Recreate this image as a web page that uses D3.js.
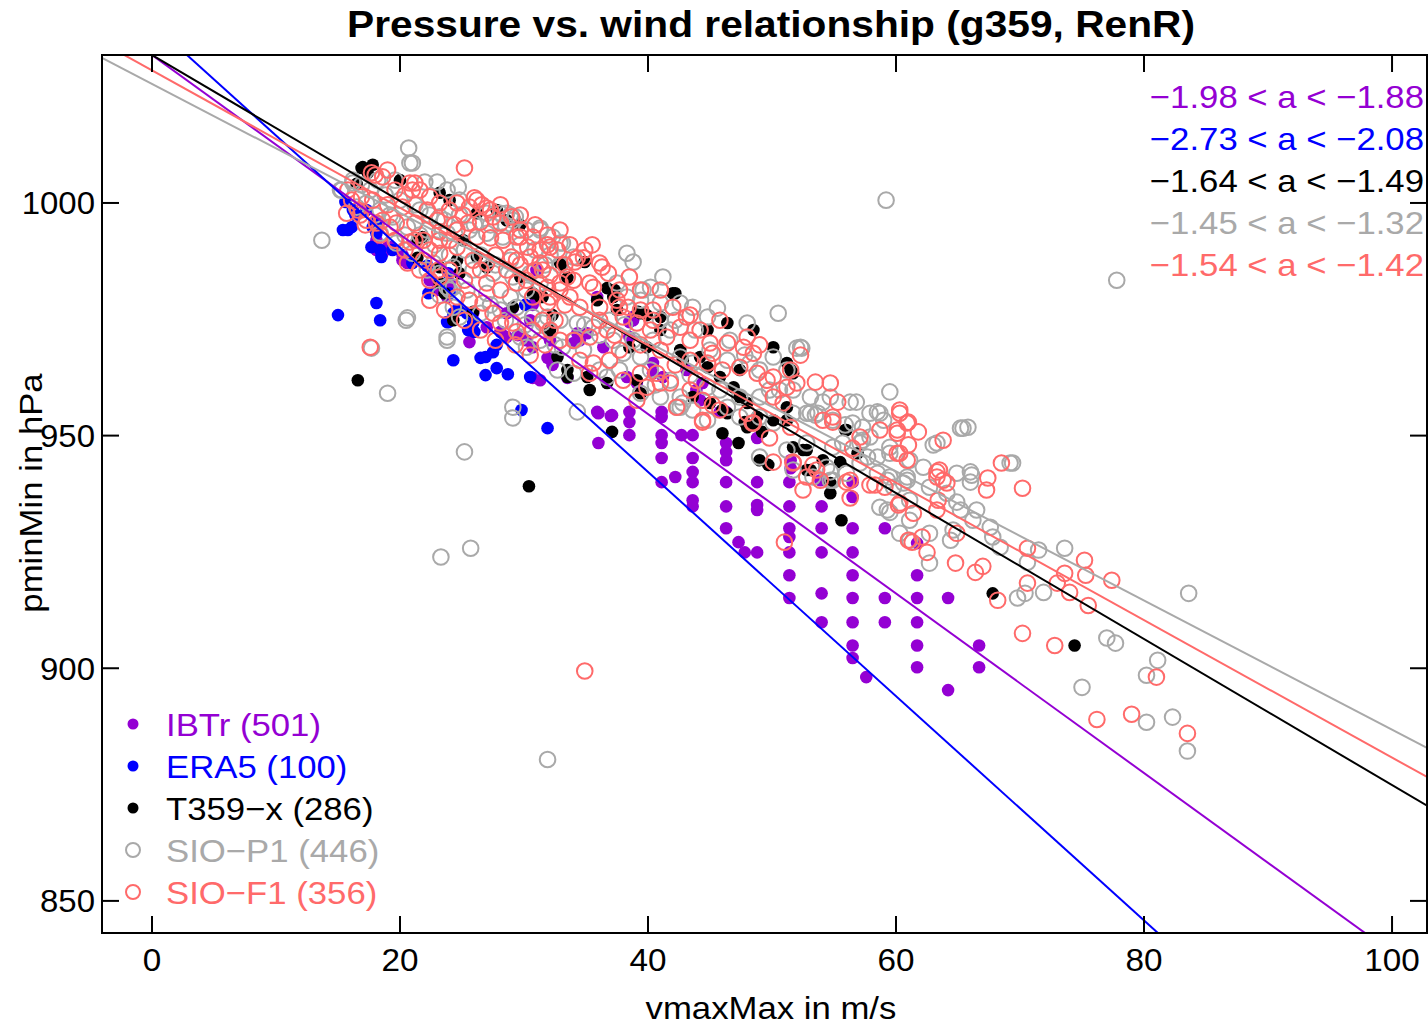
<!DOCTYPE html>
<html lang="en">
  <head>
    <meta charset="UTF-8" />
    <title>Pressure vs. wind relationship</title>
    <script src="https://d3js.org/d3.v7.min.js"></script>
    <style>
      body {
        margin: 0;
        background: white;
        font-family: "Liberation Sans", Arial, sans-serif;
      }
    </style>
  </head>
  <body>
    <script>
      // series names and colours, in drawing order
      const seriesNames = ["IBTr (501)", "ERA5 (100)", "T359\u2212x (286)", "SIO\u2212P1 (446)", "SIO\u2212F1 (356)"];
      const seriesColors = ["#9400d3", "#0000ff", "#000000", "#a9a9a9", "#ff6a6a"];
      const seriesFilled = [true, true, true, false, false];

      // fitted lines p = b + a * v
      const lineIntercepts = [1031.8, 1038.6, 1031.8, 1025.6, 1028.5];
      const lineSlopes = [-1.929, -2.41, -1.569, -1.388, -1.477];
      const slopeLabels = [
        "\u22121.98 < a < \u22121.88",
        "\u22122.73 < a < \u22122.08",
        "\u22121.64 < a < \u22121.49",
        "\u22121.45 < a < \u22121.32",
        "\u22121.54 < a < \u22121.42"
      ];

      const xTicks = [0, 20, 40, 60, 80, 100];
      const yTicks = [850, 900, 950, 1000];

      // [vmaxMax m/s, pminMin hPa]
      const ibtrPts = [
        [36.0,954.8],[37.0,954.2],[38.5,955.1],[38.5,952.9],[41.1,955.1],[41.1,954.0],[36.0,948.4],[38.5,950.1],
        [41.1,950.1],[41.1,948.4],[42.7,950.1],[43.6,950.1],[41.1,945.2],[43.6,945.2],[46.3,948.4],[46.3,946.5],
        [46.3,944.7],[43.6,942.2],[43.6,940.0],[41.1,940.0],[42.2,941.1],[46.3,940.0],[48.8,940.0],[51.4,940.0],
        [43.6,936.1],[43.6,934.8],[46.3,934.8],[48.8,935.1],[48.8,934.0],[51.4,934.8],[54.0,934.8],[46.3,930.1],
        [51.4,930.1],[54.0,930.1],[56.5,930.1],[59.1,930.1],[51.4,928.2],[47.3,927.1],[47.8,924.9],[48.8,924.9],
        [51.4,924.9],[54.0,924.9],[56.5,924.9],[51.4,920.0],[56.5,920.0],[61.7,920.0],[51.4,915.1],[54.0,916.1],
        [56.5,915.1],[59.1,915.1],[61.7,915.1],[64.2,915.1],[54.0,909.9],[56.5,909.9],[59.1,909.9],[61.7,909.9],
        [56.5,904.9],[61.7,904.9],[56.5,902.2],[57.6,898.1],[61.7,900.2],[64.2,895.3],[66.7,904.9],[66.7,900.2],
        [61.7,926.9],[56.5,940.0],[56.5,936.8],[48.8,949.5],[46.3,955.1],[51.5,944.7],[53.9,940.4],[51.5,943.0],
        [31.9,966.7],[32.3,965.2],[33.5,962.4],[35.9,955.1],[37.1,954.4],[34.0,969.9],[32.1,970.5],[38.8,974.8],
        [38.5,971.2],[34.5,970.5],[35.1,972.0],[36.4,969.0],[38.3,962.6],[39.1,961.3],[40.4,963.4],[41.2,962.6],
        [43.9,959.8],[44.4,961.3],[43.1,964.1],[38.8,975.5],[34.3,972.0],[28.6,976.3],[29.1,977.4],[30.7,978.1],
        [30.5,974.8],[35.9,979.8],[38.5,974.4],[31.0,985.6],[18.1,989.9],[19.2,990.5],[20.2,987.7],[20.6,987.1],
        [23.0,981.3],[23.8,979.8],[25.9,976.3],[27.0,973.3],[28.6,971.2],[30.2,970.5],[30.7,969.0],[24.0,982.8],
        [18.1,992.0],[19.0,990.5],[18.6,989.2],[20.2,988.8],[20.4,987.7],[22.4,983.4],[25.6,970.1],[28.1,972.3],
        [29.5,971.6],[30.7,962.4],[31.3,961.9],[40.4,965.6],[44.2,957.6],[45.8,955.1]
      ];

      const era5Pts = [
        [15.0,975.9],[18.1,978.5],[18.4,974.8],[22.3,980.6],[23.8,974.4],[24.3,976.3],[24.8,977.0],[25.4,976.3],
        [25.5,972.7],[26.0,972.3],[24.3,966.2],[26.5,966.7],[26.9,966.9],[27.8,969.5],[27.5,967.9],[27.8,964.5],
        [28.7,963.2],[26.9,963.0],[30.5,962.6],[29.8,955.5],[31.9,951.6],[15.8,994.2],[16.4,997.4],[17.3,998.5],
        [18.1,995.9],[17.7,990.5],[18.4,989.9],[18.5,988.4],[19.4,989.9],[24.0,980.6],[24.6,977.0],[23.9,974.4],
        [25.9,974.2],[25.6,972.7],[16.1,994.8],[17.8,994.8],[18.1,993.5],[21.0,987.1],[15.6,1000.2],[16.2,998.5],
        [15.4,994.2],[22.2,986.5],[23.9,984.9],[30.1,978.1]
      ];

      const t359Pts = [
        [16.6,961.9],[30.4,939.1],[37.1,950.8],[42.2,980.6],[47.3,948.4],[46.0,950.5],[55.5,944.3],[55.6,931.8],
        [67.8,916.1],[74.4,904.9],[51.5,964.1],[47.8,952.9],[48.5,952.3],[49.2,950.8],[49.0,944.7],[49.7,943.7],
        [52.8,942.6],[54.7,939.8],[56.0,951.2],[51.7,947.5],[52.8,946.9],[51.2,956.1],[46.0,955.5],[45.0,957.0],
        [17.0,1007.7],[17.8,1008.2],[17.4,1006.5],[16.9,1007.5],[16.5,1004.1],[20.0,1004.9],[23.2,1002.2],[24.0,1000.6],
        [26.2,997.8],[27.8,998.5],[28.6,996.3],[25.1,992.0],[26.2,988.4],[21.4,988.2],[23.2,986.2],[24.8,984.9],
        [29.7,984.1],[21.8,992.7],[21.4,992.0],[23.2,982.8],[23.6,980.6],[24.3,974.8],[25.9,976.6],[29.1,977.6],
        [30.7,980.6],[27.0,986.2],[24.6,987.7],[29.7,995.3],[33.1,986.7],[34.9,987.3],[33.5,983.9],[36.7,981.7],
        [37.3,981.3],[42.0,980.6],[39.2,976.6],[39.9,975.9],[32.3,975.9],[31.3,979.8],[35.9,979.1],[32.9,987.1],
        [37.5,977.0],[39.4,976.3],[41.0,972.7],[42.6,968.4],[42.8,966.2],[44.2,966.9],[44.8,964.7],[45.8,962.6],
        [46.9,960.4],[47.4,958.3],[48.0,957.0],[48.8,954.0],[50.1,953.3],[51.2,953.3],[39.4,959.1],[39.1,961.9],
        [36.7,961.3],[35.3,959.8],[33.5,964.1],[33.5,962.6],[35.1,962.6],[32.7,966.9],[32.1,972.7],[31.5,979.8],
        [37.2,979.8],[38.5,969.0],[39.9,969.0],[41.0,975.5],[47.4,964.1],[44.8,972.7],[46.4,974.2],[48.5,972.7],
        [50.1,969.0],[51.2,965.6],[43.6,958.3],[46.4,954.8],[48.0,951.8],[51.7,963.4],[55.9,951.2],[54.7,937.6],
        [56.9,946.2],[52.5,946.9],[53.1,942.6],[54.1,944.7]
      ];

      const sioP1Pts = [
        [20.7,1011.8],[59.2,1000.6],[77.8,983.4],[13.7,992.0],[20.5,974.8],[19.0,959.1],[25.2,946.5],[23.3,923.9],
        [25.7,925.8],[31.9,880.4],[29.1,953.8],[34.3,955.1],[23.8,971.2],[17.7,968.8],[21.0,1008.6],[23.0,1004.5],
        [24.7,1003.4],[28.6,997.8],[29.3,997.0],[15.2,1002.8],[16.2,1004.3],[38.3,989.2],[38.8,987.3],[41.2,984.1],
        [40.2,981.9],[39.6,981.3],[31.3,994.6],[32.3,992.7],[33.1,991.4],[28.9,997.4],[45.6,977.4],[48.0,974.2],
        [50.5,976.3],[52.0,968.8],[42.8,957.0],[42.6,956.1],[31.3,994.2],[52.4,968.8],[59.5,959.4],[58.5,955.1],
        [56.8,957.2],[54.7,958.3],[54.1,957.2],[53.5,954.4],[52.8,954.8],[57.3,951.8],[55.9,952.3],[65.4,951.6],
        [65.8,951.8],[63.0,948.0],[66.1,941.5],[66.0,940.0],[69.2,944.1],[59.5,941.1],[59.3,940.4],[60.6,939.8],
        [60.9,941.1],[64.1,937.6],[64.9,935.7],[66.5,934.0],[59.5,933.5],[62.7,929.0],[67.8,928.2],[57.3,949.0],
        [57.7,945.4],[54.9,947.5],[54.4,943.2],[69.4,944.1],[71.5,925.4],[70.6,922.8],[73.6,925.8],[71.9,916.3],
        [70.4,916.1],[69.8,915.1],[83.6,916.1],[77.0,906.5],[77.7,905.4],[68.4,926.0],[81.1,901.7],[80.2,898.5],
        [75.0,895.9],[80.2,888.4],[82.3,889.5],[83.5,882.2],[42.4,956.1],[43.6,955.5],[51.7,954.8],[53.1,954.8],
        [58.7,954.8],[56.3,957.2],[65.2,951.6],[63.3,948.4],[66.0,942.2],[59.3,934.0],[61.1,936.1],[62.7,922.6],
        [64.4,927.5],[64.6,929.7],[61.1,927.5],[65.2,934.0],[59.8,938.9],[60.9,940.4],[58.5,941.9],[49.0,945.4],
        [51.7,942.6],[54.7,942.2],[54.9,940.4],[53.3,941.1],[57.1,948.4],[55.7,948.4],[52.8,948.4],[51.2,946.9],
        [20.8,1008.6],[15.3,1002.8],[16.2,1004.9],[22.0,1004.5],[23.8,1002.8],[24.8,1000.6],[23.2,997.0],[21.6,998.5],
        [27.0,997.8],[28.1,997.8],[29.1,996.3],[30.2,994.2],[28.3,992.7],[27.0,993.5],[25.6,994.2],[23.8,993.5],
        [22.2,994.2],[20.6,994.8],[19.4,997.0],[18.4,998.5],[17.3,1000.0],[16.5,999.1],[18.4,993.5],[19.7,991.4],
        [21.0,989.2],[22.7,987.1],[24.3,986.2],[25.9,985.6],[27.5,984.9],[29.1,984.1],[30.5,984.9],[31.3,982.8],
        [30.2,981.3],[28.9,979.8],[27.0,980.6],[25.4,981.3],[23.8,981.9],[22.2,985.6],[24.3,977.6],[24.8,975.5],
        [26.5,976.3],[28.1,977.0],[29.4,977.6],[30.7,975.5],[31.5,974.2],[29.7,971.2],[23.8,970.5],[20.6,975.3],
        [24.0,981.3],[29.1,956.1],[30.2,969.0],[23.2,984.9],[24.3,981.9],[32.9,991.4],[34.0,988.4],[37.5,982.8],
        [38.3,979.8],[39.4,979.1],[41.0,978.5],[42.6,978.5],[43.6,977.6],[44.8,975.5],[41.8,972.7],[40.4,970.5],
        [38.8,970.5],[37.2,970.5],[35.6,973.3],[34.3,974.2],[32.9,974.8],[31.9,975.5],[33.1,969.0],[34.8,968.4],
        [38.0,967.7],[39.4,966.9],[42.6,966.9],[43.6,965.6],[46.4,966.2],[48.2,965.6],[50.1,966.9],[51.2,964.1],
        [51.7,959.8],[50.6,959.8],[49.0,958.3],[47.4,958.3],[45.8,959.8],[44.8,960.4],[42.6,958.3],[41.0,958.3],
        [39.4,959.1],[40.2,964.1],[36.7,962.6],[34.0,963.4],[32.7,964.1],[46.4,956.1],[47.4,954.0],[49.0,954.0],
        [50.1,952.7],[44.8,953.3],[52.3,969.0],[53.1,958.3],[53.7,954.8],[54.9,953.3],[56.5,952.7],[57.9,954.8],
        [59.0,953.3],[57.9,949.7],[59.5,947.5],[61.1,944.7],[62.2,943.2],[64.9,941.9],[59.5,946.2],[58.5,945.4],
        [57.1,944.1],[56.0,941.9],[54.7,940.4],[62.7,938.9],[58.7,934.6],[61.1,931.8],[60.3,929.0],[66.2,931.8],
        [67.6,930.3],
        [17.6,1002.8],[18.8,1001.7],[20.0,1000.6],[21.2,999.6],[22.4,997.4],[23.6,996.3],[24.8,997.4],[26.0,995.3],
        [27.3,995.3],[28.5,995.3],[29.7,991.0],[30.9,989.9],[32.1,988.8],[32.9,986.7],[31.7,986.7],[28.9,987.7],
        [27.7,986.7],[26.5,988.8],[25.2,989.9],[24.0,988.8],[22.8,991.0],[21.6,993.1],[20.4,993.1],[19.2,997.4],
        [18.0,997.4],[16.9,1003.9],[18.2,1004.9],[19.6,1004.9],[23.2,980.2],[25.6,979.1],[27.3,978.1],[28.5,974.8],
        [30.1,973.8],[31.3,970.5],[32.5,969.5],[34.1,970.5],[34.9,973.8],[36.1,971.6],[36.9,974.8],[38.1,973.8],
        [41.0,974.8],[42.2,974.8],[43.8,972.7],[45.0,968.4],[46.6,970.5],[47.8,967.3],[49.0,964.1],[49.8,959.8],
        [43.4,963.0],[41.8,961.9],[40.6,960.9],[37.7,964.1],[36.1,964.1]
      ];

      const sioF1Pts = [
        [25.2,1007.5],[17.6,969.0],[15.7,997.8],[34.9,899.4],[52.3,967.3],[52.0,961.3],[53.5,961.5],[54.7,961.3],
        [55.3,957.2],[54.1,953.3],[54.9,952.9],[60.3,955.5],[61.0,952.9],[61.8,950.8],[58.7,951.2],[60.1,950.5],
        [63.8,949.0],[61.0,948.0],[60.3,946.2],[57.1,949.7],[56.5,947.3],[68.5,944.1],[67.4,940.9],[67.3,938.3],
        [70.2,938.7],[63.5,942.6],[63.4,936.1],[64.1,939.8],[63.3,941.1],[58.3,939.4],[59.1,938.9],[57.9,939.4],
        [56.3,940.4],[56.3,936.6],[53.9,940.4],[52.5,938.3],[51.7,944.1],[53.3,943.7],[62.1,928.2],[61.0,927.5],
        [61.4,933.3],[63.3,934.0],[60.2,935.1],[64.9,929.0],[70.6,925.8],[73.6,920.4],[75.2,923.2],[75.3,920.0],
        [77.4,918.9],[73.0,918.3],[74.0,916.3],[70.6,918.3],[75.5,913.5],[70.2,907.5],[72.8,904.9],[68.2,914.6],
        [81.0,898.1],[76.2,889.0],[79.0,890.1],[83.5,886.0],[67.0,921.9],[66.4,920.6],[64.8,922.6],[62.5,924.9],
        [61.3,927.1],[51.0,927.1],[39.1,957.6],[44.4,952.9],[45.2,956.6],[48.4,952.7],[49.8,949.5],[51.5,951.8],
        [50.1,944.3],[51.7,944.3],[52.8,941.1],[53.6,942.6],[56.0,940.0],[54.9,954.0],[60.1,951.2],[60.3,954.8],
        [60.9,952.7],[60.1,946.2],[60.9,944.7],[63.3,942.2],[63.8,940.4],[60.3,935.5],
        [17.7,1006.5],[19.0,1007.1],[18.6,1005.6],[20.8,1004.3],[21.0,1002.8],[22.4,1001.3],[23.2,1000.0],[22.2,998.5],
        [20.2,999.1],[19.0,999.6],[17.8,1000.6],[16.9,1001.3],[16.6,998.5],[17.3,996.3],[18.6,996.3],[19.7,995.7],
        [21.2,995.7],[23.0,996.3],[24.6,1000.0],[25.6,999.1],[26.0,1001.1],[27.0,998.9],[29.0,997.0],[27.5,997.0],
        [25.5,995.7],[24.6,994.2],[23.2,993.8],[21.9,992.0],[20.8,991.6],[22.4,989.9],[24.0,992.0],[26.2,992.7],
        [27.3,992.5],[28.3,992.0],[29.4,992.7],[21.9,987.7],[20.6,987.1],[23.1,985.6],[29.0,988.4],[30.3,990.5],
        [18.0,1006.0],[21.2,1004.3],[26.2,1000.6],[26.6,999.6],[27.3,998.5],[28.1,995.7],[29.7,994.2],[30.7,992.7],
        [31.3,989.9],[30.5,988.4],[29.4,987.7],[28.6,985.6],[27.0,987.1],[25.9,987.7],[24.6,990.5],[23.2,989.2],
        [18.1,995.7],[19.2,994.8],[23.2,992.0],[21.2,992.0],[23.2,984.1],[24.6,979.8],[25.6,979.1],[26.7,978.5],
        [27.5,976.3],[28.1,974.2],[29.1,974.2],[29.4,972.3],[30.7,972.7],[31.5,974.8],[29.4,982.8],[28.1,981.3],
        [27.0,982.8],[30.7,979.8],[31.9,978.5],
        [31.9,991.0],[32.7,989.9],[31.3,987.1],[34.1,987.3],[34.8,988.2],[36.3,986.2],[36.8,984.9],[35.6,981.9],
        [34.0,983.4],[32.9,982.8],[32.1,979.8],[33.7,979.8],[34.5,977.6],[36.1,977.6],[37.5,979.1],[38.4,977.6],
        [39.4,977.0],[40.4,977.0],[42.0,977.6],[43.1,975.5],[42.6,973.3],[41.5,971.2],[40.2,972.7],[39.1,974.2],
        [38.0,975.5],[36.7,972.7],[35.3,971.2],[34.0,970.5],[32.9,970.5],[32.1,972.7],[34.5,966.2],[35.6,965.6],
        [36.9,966.2],[38.0,961.9],[39.4,963.4],[40.7,963.4],[41.8,961.3],[43.4,959.8],[44.4,957.6],[43.9,961.9],
        [44.8,965.6],[46.0,964.1],[47.4,964.7],[45.2,967.7],[45.0,969.9],[46.4,969.9],[47.7,969.0],[48.5,967.7],
        [48.8,963.4],[49.6,961.9],[50.1,962.6],[51.2,960.4],[50.1,958.3],[50.9,957.0],[48.5,952.7],[48.0,954.8],
        [44.4,953.3],[45.8,955.5],[42.3,956.1],[41.0,961.3],[39.9,960.4],[35.3,963.4],
        [29.7,992.7],[32.1,990.5],[35.5,991.0],[34.3,988.2],[36.1,987.1],[38.5,984.1],[33.5,984.1],[31.5,985.6],
        [32.9,981.3],[31.9,981.9],[30.2,983.4],[35.3,982.8],[37.7,977.6],[43.4,975.9],[40.4,974.8],[45.8,974.8],
        [48.0,971.2],[49.0,969.5],[51.5,964.1],
        [19.6,1002.8],[20.4,1001.7],[21.6,1002.8],[24.0,998.5],[25.1,997.4],[24.4,995.3],[26.5,995.9],[28.1,999.6],
        [29.7,997.4],[30.9,995.3],[31.9,993.1],[32.9,994.2],[33.7,991.0],[34.9,989.9],[33.3,986.7],[32.1,984.5],
        [30.9,985.6],[29.7,986.7],[27.7,988.8],[26.5,985.6],[25.2,983.4],[24.0,985.6],[22.4,983.4],[21.6,985.6],
        [20.4,989.9],[19.6,992.0],[18.4,993.1],[17.2,995.3],[16.8,997.4],[16.1,1000.6],[15.8,1002.8],[22.4,979.1],
        [23.6,977.0],[25.2,974.8],[26.5,972.7],[27.7,970.5],[29.3,969.5],[30.5,967.3],[31.7,969.5],[32.5,974.8],
        [33.3,978.1],[36.1,974.8],[37.3,971.6],[37.7,968.4],[39.4,969.5],[41.0,968.4],[42.2,965.2],[43.4,966.2],
        [43.4,970.5],[44.2,972.7],[41.0,981.3],[39.4,981.3],[37.7,981.3]
      ];

      const allPts = [ibtrPts, era5Pts, t359Pts, sioP1Pts, sioF1Pts];

      const W = 1428, H = 1025;
      const plot = { left: 102, right: 1427, top: 55, bottom: 933 };
      // the reference glyphs are a little wider than Liberation Sans
      const textStretch = 1.085;

      const x = d3.scaleLinear().domain([-4.03, 102.9]).range([plot.left, 1428]);
      const y = d3.scaleLinear().domain([843.1, 1031.8]).range([plot.bottom, plot.top]);

      const svg = d3.select("body").append("svg")
        .attr("width", W).attr("height", H)
        .style("font-family", "'Liberation Sans', Arial, sans-serif");

      function stretch(sel, k) {
        sel.each(function () {
          const w = this.getComputedTextLength();
          d3.select(this).attr("textLength", w * k).attr("lengthAdjust", "spacingAndGlyphs");
        });
      }

      svg.append("clipPath").attr("id", "clip")
        .append("rect")
        .attr("x", plot.left).attr("y", plot.top)
        .attr("width", plot.right - plot.left).attr("height", plot.bottom - plot.top);

      const gPts = svg.append("g").attr("clip-path", "url(#clip)");

      // points, legend order
      allPts.forEach((pts, i) => {
        gPts.append("g").selectAll("circle").data(pts).join("circle")
          .attr("cx", d => x(d[0]))
          .attr("cy", d => y(d[1]))
          .attr("r", seriesFilled[i] ? 6.3 : 7.8)
          .attr("fill", seriesFilled[i] ? seriesColors[i] : "none")
          .attr("stroke", seriesFilled[i] ? "none" : seriesColors[i])
          .attr("stroke-width", 2);
      });

      // regression lines
      const [x0, x1] = x.domain();
      lineSlopes.forEach((a, i) => {
        const b = lineIntercepts[i];
        gPts.append("line")
          .attr("x1", x(x0)).attr("y1", y(b + a * x0))
          .attr("x2", x(x1)).attr("y2", y(b + a * x1))
          .attr("stroke", seriesColors[i])
          .attr("stroke-width", 2);
      });

      // frame
      svg.append("rect")
        .attr("x", plot.left).attr("y", plot.top)
        .attr("width", plot.right - plot.left).attr("height", plot.bottom - plot.top)
        .attr("fill", "none").attr("stroke", "black").attr("stroke-width", 2);

      // ticks on all four sides, pointing inward
      const tickLen = 17;
      const gAx = svg.append("g").attr("stroke", "black").attr("stroke-width", 2);
      xTicks.forEach(t => {
        gAx.append("line").attr("x1", x(t)).attr("x2", x(t)).attr("y1", plot.bottom).attr("y2", plot.bottom - tickLen);
        gAx.append("line").attr("x1", x(t)).attr("x2", x(t)).attr("y1", plot.top).attr("y2", plot.top + tickLen);
      });
      yTicks.forEach(t => {
        gAx.append("line").attr("x1", plot.left).attr("x2", plot.left + tickLen).attr("y1", y(t)).attr("y2", y(t));
        gAx.append("line").attr("x1", plot.right).attr("x2", plot.right - tickLen).attr("y1", y(t)).attr("y2", y(t));
      });

      svg.append("g").selectAll("text").data(xTicks).join("text")
        .attr("x", d => x(d)).attr("y", 971)
        .attr("text-anchor", "middle")
        .attr("font-size", 32)
        .text(d => d)
        .call(stretch, 1.04);

      svg.append("g").selectAll("text").data(yTicks).join("text")
        .attr("x", 95).attr("y", d => y(d) + 11.5)
        .attr("text-anchor", "end")
        .attr("font-size", 32)
        .text(d => d)
        .call(stretch, 1.03);

      // titles
      svg.append("text")
        .attr("x", 771).attr("y", 37)
        .attr("text-anchor", "middle")
        .attr("font-size", 37.5).attr("font-weight", "bold")
        .text("Pressure vs. wind relationship (g359, RenR)")
        .call(stretch, textStretch);

      svg.append("text")
        .attr("x", 771).attr("y", 1019)
        .attr("text-anchor", "middle")
        .attr("font-size", 32)
        .text("vmaxMax in m/s")
        .call(stretch, textStretch);

      svg.append("text")
        .attr("transform", "translate(42,493) rotate(-90)")
        .attr("text-anchor", "middle")
        .attr("font-size", 32)
        .text("pminMin in hPa")
        .call(stretch, textStretch);

      // slope ranges, top right
      svg.append("g").selectAll("text").data(slopeLabels).join("text")
        .attr("x", 1424).attr("y", (d, i) => 108 + i * 42)
        .attr("text-anchor", "end")
        .attr("font-size", 32)
        .attr("fill", (d, i) => seriesColors[i])
        .text(d => d)
        .call(stretch, textStretch);

      // legend, bottom left
      const leg = svg.append("g");
      seriesNames.forEach((name, i) => {
        const cy = 724 + i * 42;
        leg.append("circle")
          .attr("cx", 133).attr("cy", cy)
          .attr("r", seriesFilled[i] ? 5.5 : 7)
          .attr("fill", seriesFilled[i] ? seriesColors[i] : "none")
          .attr("stroke", seriesFilled[i] ? "none" : seriesColors[i])
          .attr("stroke-width", 2);
        leg.append("text")
          .attr("x", 166).attr("y", cy + 11.5)
          .attr("font-size", 32)
          .attr("fill", seriesColors[i])
          .text(name)
          .call(stretch, textStretch);
      });
    </script>
  </body>
</html>
